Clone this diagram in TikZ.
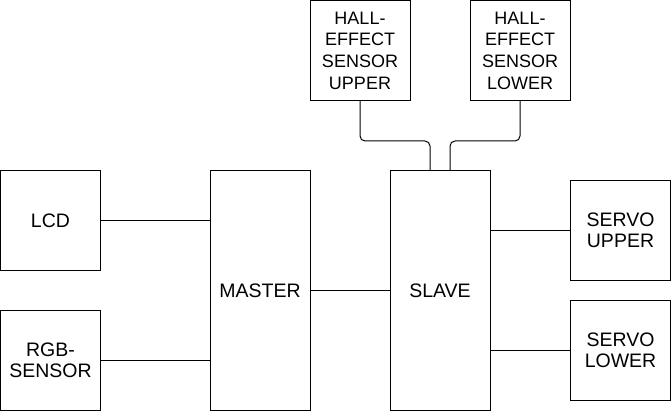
\documentclass[tikz,border=0pt]{standalone}
\usepackage{fontspec}
\setmainfont{Liberation Sans}
\usetikzlibrary{calc}
\begin{document}
\begin{tikzpicture}[x=1pt,y=-1pt,
  blk/.style={draw, line width=1pt, inner sep=0pt, align=center,
    minimum width=100pt, minimum height=100pt,
    font=\fontsize{19.5}{21.5}\selectfont},
  small/.style={blk, font=\fontsize{18}{21.7}\selectfont},
  tall/.style={blk, minimum height=240pt},
  wire/.style={line width=1pt}]
\useasboundingbox (0,0) rectangle (671,411);
% sensors and display on the left
\node[blk] (lcd) at (50.5,220.5) {LCD};
\node[blk] (rgb) at (50.5,360.5) {RGB-\\SENSOR};
% controller boards
\node[tall] (master) at (260,290.5) {MASTER};
\node[tall] (slave) at (440,290.5) {SLAVE};
% hall-effect sensors on top
\node[small] (hallu) at (360,50.5) {HALL-\\EFFECT\\SENSOR\\UPPER};
\node[small] (halll) at (520,50.5) {HALL-\\EFFECT\\SENSOR\\LOWER};
% servos on the right
\node[blk] (servou) at (620.5,230.5) {SERVO\\UPPER};
\node[blk] (servol) at (620.5,350.5) {SERVO\\LOWER};
% connection points on top of the slave
\coordinate (su) at ($(slave.north)+(-10,0)$);
\coordinate (sl) at ($(slave.north)+(10,0)$);
% wiring
\draw[wire] (lcd.east) -- (lcd.east -| master.west);
\draw[wire] (rgb.east) -- (rgb.east -| master.west);
\draw[wire] (master.east) -- (slave.west);
\draw[wire] (servou.west -| slave.east) -- (servou.west);
\draw[wire] (servol.west -| slave.east) -- (servol.west);
\draw[wire, rounded corners=5pt] (hallu.south) -- ++(0,40) -| (su);
\draw[wire, rounded corners=5pt] (halll.south) -- ++(0,40) -| (sl);
\end{tikzpicture}
\end{document}
